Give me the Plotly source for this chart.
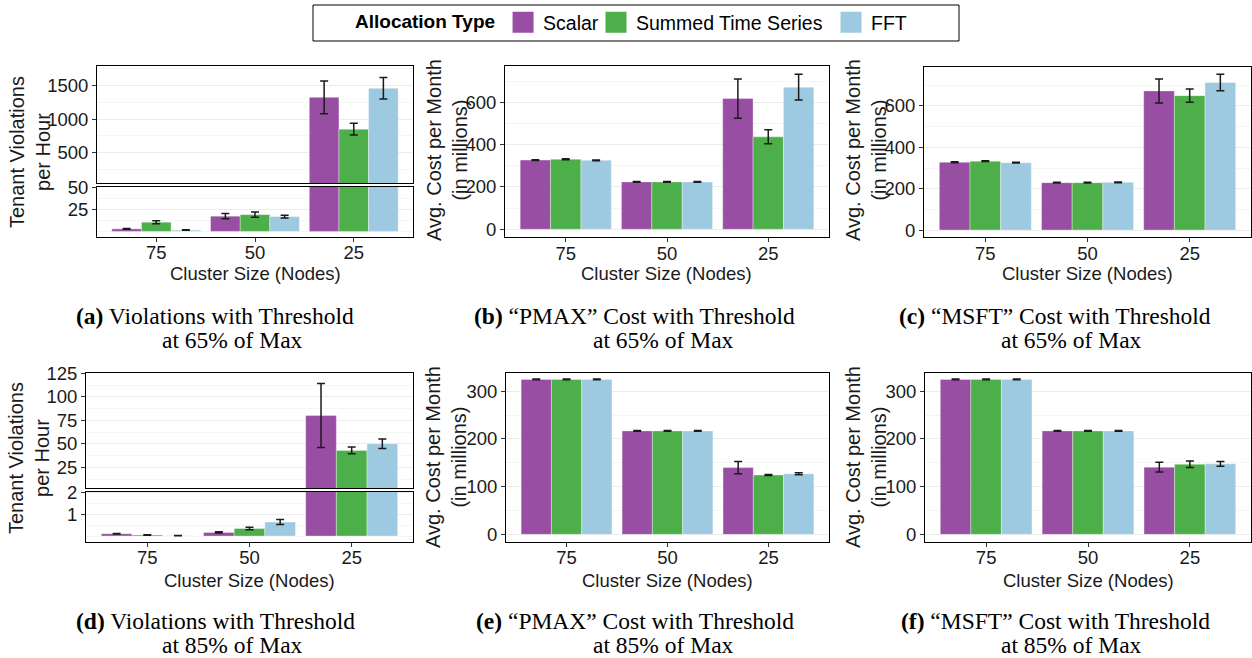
import plotly.graph_objects as go

W, H = 1252, 658

categories = ["75", "50", "25"]
series_names = ["Scalar", "Summed Time Series", "FFT"]
series_colors = ["#984EA3", "#4DAF4A", "#9ECAE1"]

# (a) Tenant violations per hour, threshold 65%
viol65_scalar = [2.9, 17.2, 1325]
viol65_scalar_err = [0.5, 3.0, 245]
viol65_summed = [10.4, 19.0, 850]
viol65_summed_err = [1.8, 3.0, 88]
viol65_fft = [1.5, 16.8, 1460]
viol65_fft_err = [0.3, 1.5, 160]

# (b) PMAX cost, threshold 65%
pmax65_scalar = [327, 224, 618]
pmax65_scalar_err = [2, 1.5, 93]
pmax65_summed = [331, 224, 437]
pmax65_summed_err = [2, 1.5, 33]
pmax65_fft = [326, 224, 672]
pmax65_fft_err = [2, 1.5, 61]

# (c) MSFT cost, threshold 65%
msft65_scalar = [328, 229, 673]
msft65_scalar_err = [2, 2, 58]
msft65_summed = [333, 229, 650]
msft65_summed_err = [2, 2, 32]
msft65_fft = [326, 231, 714]
msft65_fft_err = [2, 2, 40]

# (d) Tenant violations per hour, threshold 85%
viol85_scalar = [0.11, 0.17, 80]
viol85_scalar_err = [0.01, 0.03, 34]
viol85_summed = [0.05, 0.35, 43]
viol85_summed_err = [0.01, 0.06, 3.5]
viol85_fft = [0.02, 0.65, 50]
viol85_fft_err = [0.01, 0.12, 5]

# (e) PMAX cost, threshold 85%
pmax85_scalar = [325, 217, 140]
pmax85_scalar_err = [1, 1, 13]
pmax85_summed = [325, 217, 124.5]
pmax85_summed_err = [1, 1, 1]
pmax85_fft = [325, 217, 127]
pmax85_fft_err = [1, 1, 2]

# (f) MSFT cost, threshold 85%
msft85_scalar = [325, 217, 141]
msft85_scalar_err = [1, 1, 10]
msft85_summed = [325, 217, 147]
msft85_summed_err = [1, 1, 7]
msft85_fft = [325, 217, 148]
msft85_fft_err = [1, 1, 5]

SANS = "Liberation Sans, Arial, sans-serif"
SERIF = "Liberation Serif, Times New Roman, serif"
TXT = "#1a1a1a"

fig = go.Figure()


def px_x(a, b):
    return [a / W, b / W]


def px_y(top, bottom):
    return [1 - bottom / H, 1 - top / H]


panels = [
    (1, (97, 413), (66, 183), [47, 1793], [500, 1000, 1500], [250, 750, 1250, 1750], False,
     [(viol65_scalar, viol65_scalar_err), (viol65_summed, viol65_summed_err), (viol65_fft, viol65_fft_err)]),
    (2, (97, 413), (187, 237), [-6.3, 50.2], [25, 50], [0, 12.5, 37.5], True,
     [(viol65_scalar, viol65_scalar_err), (viol65_summed, viol65_summed_err), (viol65_fft, viol65_fft_err)]),
    (3, (505, 829), (66, 237.3), [-38, 772], [0, 200, 400, 600], [100, 300, 500, 700], True,
     [(pmax65_scalar, pmax65_scalar_err), (pmax65_summed, pmax65_summed_err), (pmax65_fft, pmax65_fft_err)]),
    (4, (924, 1251), (66.7, 237.3), [-35, 790], [0, 200, 400, 600], [100, 300, 500, 700], True,
     [(msft65_scalar, msft65_scalar_err), (msft65_summed, msft65_summed_err), (msft65_fft, msft65_fft_err)]),
    (5, (86, 413), (372.7, 488.3), [2.7, 125.6], [25, 50, 75, 100, 125], [12.5, 37.5, 62.5, 87.5, 112.5], False,
     [(viol85_scalar, viol85_scalar_err), (viol85_summed, viol85_summed_err), (viol85_fft, viol85_fft_err)]),
    (6, (86, 413), (491.7, 541.7), [-0.26, 2.05], [1, 2], [0, 0.5, 1.5], True,
     [(viol85_scalar, viol85_scalar_err), (viol85_summed, viol85_summed_err), (viol85_fft, viol85_fft_err)]),
    (7, (506, 829), (372.7, 542), [-16, 339], [0, 100, 200, 300], [50, 150, 250], True,
     [(pmax85_scalar, pmax85_scalar_err), (pmax85_summed, pmax85_summed_err), (pmax85_fft, pmax85_fft_err)]),
    (8, (925, 1251), (372.7, 542), [-16, 339], [0, 100, 200, 300], [50, 150, 250], True,
     [(msft85_scalar, msft85_scalar_err), (msft85_summed, msft85_summed_err), (msft85_fft, msft85_fft_err)]),
]

layout_axes = {}
for idx, (x0, x1), (y0, y1), yr, tv, mtv, showx, data in panels:
    xn = "x" if idx == 1 else f"x{idx}"
    yn = "y" if idx == 1 else f"y{idx}"
    xkey = "xaxis" if idx == 1 else f"xaxis{idx}"
    ykey = "yaxis" if idx == 1 else f"yaxis{idx}"
    for (vals, errs), name, col in zip(data, series_names, series_colors):
        fig.add_trace(go.Bar(
            x=categories, y=vals, name=name, xaxis=xn, yaxis=yn,
            marker=dict(color=col, line=dict(color="rgba(255,255,255,0.35)", width=1)),
            error_y=dict(type="data", array=errs, color="#1a1a1a", thickness=1.5, width=4),
            showlegend=False, legendgroup=name,
        ))
    layout_axes[xkey] = dict(
        domain=px_x(x0, x1), anchor=yn, type="category",
        categoryorder="array", categoryarray=categories,
        range=[-0.6, 2.6], showgrid=False, zeroline=False,
        showline=True, mirror=True, linecolor="#000", linewidth=1,
        ticks="outside" if showx else "", ticklen=4, tickcolor="#333",
        showticklabels=showx, ticklabelstandoff=-5,
        tickfont=dict(family=SANS, size=18.5, color=TXT),
        fixedrange=True,
    )
    layout_axes[ykey] = dict(
        domain=px_y(y0, y1), anchor=xn, range=yr,
        tickmode="array", tickvals=tv, ticktext=[f"{v:g}" for v in tv],
        showgrid=True, gridcolor="#EBEBEB", gridwidth=1, zeroline=False,
        minor=dict(tickmode="array", tickvals=mtv, showgrid=True, gridcolor="#F5F5F5", gridwidth=0.6, ticks=""),
        showline=True, mirror=True, linecolor="#000", linewidth=1,
        ticks="outside", ticklen=4, tickcolor="#333",
        tickfont=dict(family=SANS, size=18.5, color=TXT), fixedrange=True,
    )

# legend entries (square swatches), one legend per entry so each can be placed
legend_ids = ["legend", "legend2", "legend3"]
for name, col, lid in zip(series_names, series_colors, legend_ids):
    fig.add_trace(go.Scatter(
        x=[None], y=[None], mode="markers", name=name, legendgroup=name, legend=lid,
        marker=dict(symbol="square", size=16, color=col, line=dict(color=col, width=5)),
        xaxis="x", yaxis="y",
    ))

ann = []
ytitles = [
    ("Tenant Violations<br>per Hour", 30, 152),
    ("Avg. Cost per Month<br>(in millions)", 447, 150),
    ("Avg. Cost per Month<br>(in millions)", 866, 150),
    ("Tenant Violations<br>per Hour", 29, 458),
    ("Avg. Cost per Month<br>(in millions)", 446, 457),
    ("Avg. Cost per Month<br>(in millions)", 866, 457),
]
for t, xc, yc in ytitles:
    ann.append(dict(text=t, x=xc / W, y=1 - yc / H, xref="paper", yref="paper",
                    xanchor="center", yanchor="middle", textangle=-90, showarrow=False,
                    font=dict(family=SANS, size=20, color=TXT), align="center"))
for xc, yc in [(255, 273), (667, 273), (1087.5, 273), (249.5, 580), (667.5, 580), (1088, 580)]:
    ann.append(dict(text="Cluster Size (Nodes)", x=xc / W, y=1 - yc / H, xref="paper", yref="paper",
                    xanchor="center", yanchor="middle", showarrow=False,
                    font=dict(family=SANS, size=18.5, color=TXT)))
captions = [
    ("<b>(a)</b> Violations with Threshold", "at 65% of Max", 215, 232.5, 316),
    ("<b>(b)</b> \u201cPMAX\u201d Cost with Threshold", "at 65% of Max", 634.5, 663, 316),
    ("<b>(c)</b> \u201cMSFT\u201d Cost with Threshold", "at 65% of Max", 1055, 1071, 316),
    ("<b>(d)</b> Violations with Threshold", "at 85% of Max", 215, 232.5, 621),
    ("<b>(e)</b> \u201cPMAX\u201d Cost with Threshold", "at 85% of Max", 634.5, 663, 621),
    ("<b>(f)</b> \u201cMSFT\u201d Cost with Threshold", "at 85% of Max", 1055, 1071, 621),
]
for l1, l2, x1c, x2c, yc in captions:
    ann.append(dict(text=l1, x=x1c / W, y=1 - yc / H, xref="paper", yref="paper",
                    xanchor="center", yanchor="middle", showarrow=False,
                    font=dict(family=SERIF, size=23.5, color="#000")))
    ann.append(dict(text=l2, x=x2c / W, y=1 - (yc + 24) / H, xref="paper", yref="paper",
                    xanchor="center", yanchor="middle", showarrow=False,
                    font=dict(family=SERIF, size=23.5, color="#000")))

leg_common = dict(
    orientation="h", yanchor="top", y=1 - 3 / H, xanchor="left",
    font=dict(family=SANS, size=19.5, color="#000"),
    borderwidth=0, bgcolor="rgba(0,0,0,0)", itemwidth=30, tracegroupgap=0,
)

fig.update_layout(
    width=W, height=H, autosize=False,
    margin=dict(l=0, r=0, t=0, b=0, autoexpand=False),
    paper_bgcolor="white", plot_bgcolor="white",
    barmode="group", bargap=0.1, bargroupgap=0,
    font=dict(family=SANS, size=18.5, color=TXT),
    showlegend=True,
    legend=dict(leg_common, x=353 / W,
                title=dict(text="<b>Allocation Type</b>", side="left",
                           font=dict(family=SANS, size=19, color="#000"))),
    legend2=dict(leg_common, x=596 / W),
    legend3=dict(leg_common, x=831 / W),
    shapes=[dict(type="rect", xref="paper", yref="paper",
                 x0=313 / W, x1=959 / W, y0=1 - 41 / H, y1=1 - 5 / H,
                 line=dict(color="#000", width=1), fillcolor="rgba(0,0,0,0)", layer="above")],
    annotations=ann,
    **layout_axes,
)

fig.write_html("out.html", config={"displayModeBar": False},
               post_script="document.body.style.margin='0px';")
